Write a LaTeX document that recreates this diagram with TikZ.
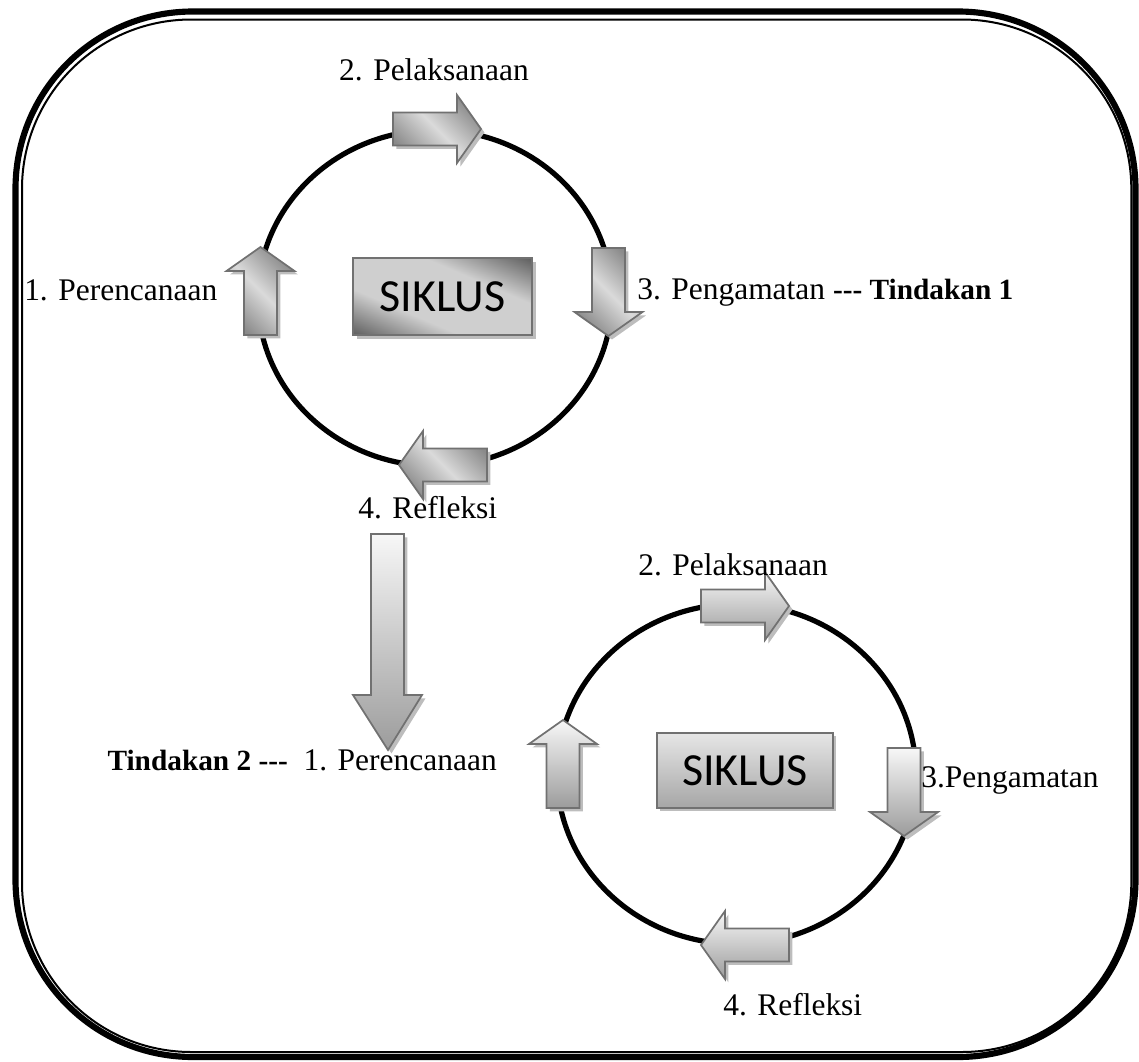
\documentclass[tikz,border=0pt]{standalone}
\usepackage{fontspec}
\setmainfont{Liberation Serif}
\newfontfamily\siklusfont{Carlito}
\usetikzlibrary{shadows}
\definecolor{edgegray}{HTML}{717171}
\definecolor{shadowgray}{HTML}{BDBDBD}
\definecolor{arrdk}{HTML}{8A8A8A}
\definecolor{arrlt}{HTML}{DADADA}
\definecolor{boxdk}{HTML}{5E5E5E}
\definecolor{boxlt}{HTML}{CFCFCF}
\definecolor{lighttop}{HTML}{F7F7F7}
\definecolor{lightbot}{HTML}{9C9C9C}
\definecolor{boxtop}{HTML}{E6E6E6}
\definecolor{boxbot}{HTML}{A6A6A6}
\pgfdeclarehorizontalshading{arrgray}{100bp}{color(0bp)=(arrdk); color(25bp)=(arrdk); color(50bp)=(arrlt); color(75bp)=(arrdk); color(100bp)=(arrdk)}
\pgfdeclarehorizontalshading{boxgray}{100bp}{color(0bp)=(boxdk); color(25bp)=(boxdk); color(40bp)=(boxlt); color(60bp)=(boxlt); color(75bp)=(boxdk); color(100bp)=(boxdk)}
% block arrow: tail centre (#1,#2), unit direction (#3,#4), style #5
\newcommand\blockarr[5]{%
  \path[#5] ({#1-16.5*(#4)},{#2+16.5*(#3)})
    -- ({#1+64*(#3)-16.5*(#4)},{#2+64*(#4)+16.5*(#3)})
    -- ({#1+64*(#3)-34*(#4)},{#2+64*(#4)+34*(#3)})
    -- ({#1+88*(#3)},{#2+88*(#4)})
    -- ({#1+64*(#3)+34*(#4)},{#2+64*(#4)-34*(#3)})
    -- ({#1+64*(#3)+16.5*(#4)},{#2+64*(#4)-16.5*(#3)})
    -- ({#1+16.5*(#4)},{#2-16.5*(#3)}) -- cycle;}
\tikzset{
  shad/.style={drop shadow={shadow xshift=2.6pt, shadow yshift=-2.6pt, fill=shadowgray, opacity=1}},
  arrdark/.style={shad, draw=edgegray, line width=1.3pt, shading=arrgray, shading angle=45},
  arrlight/.style={shad, draw=edgegray, line width=1.3pt, top color=lighttop, bottom color=lightbot},
  ring/.style={line width=3.9pt},
  lbl/.style={font=\fontsize{23.6pt}{28pt}\selectfont, inner sep=0pt},
  siklusA/.style={draw=edgegray, line width=1.3pt,
    minimum width=134.25pt, minimum height=57.75pt, inner sep=0pt,
    font=\siklusfont\fontsize{34.5pt}{40pt}\selectfont},
  siklusB/.style={shad, draw=edgegray, line width=1.3pt, top color=boxtop, bottom color=boxbot,
    minimum width=132pt, minimum height=56.25pt, inner sep=0pt,
    font=\siklusfont\fontsize{34.5pt}{40pt}\selectfont}
}
\newcommand\bt[1]{{\fontsize{22pt}{26pt}\selectfont\bfseries #1}}
\begin{document}
\begin{tikzpicture}[x=0.75pt,y=-0.75pt]
\useasboundingbox (0,0) rectangle (1139,1061);
% page border (thick-thin)
\draw[line width=4.6pt, rounded corners=133pt] (15.5,11.5) rectangle (1135.5,1057);
\draw[line width=1.5pt, rounded corners=127pt] (22,19.5) rectangle (1131.3,1052);

% cycle 1
\draw[ring] (435,298) ellipse [x radius=132.75pt, y radius=126pt];
% SIKLUS box with diagonal gradient (dark upper-right and lower-left corners)
\fill[shadowgray] (356.5,261.5) rectangle (535.5,338.5);
\begin{scope}
  \clip (353,258) rectangle (532,335);
  \begin{scope}[transform canvas={rotate around={66.7:(442.5,296.5)}}]
    \shade[shading=boxgray] (371.8,191.5) rectangle (513.2,401.5);
  \end{scope}
\end{scope}
\node[siklusA] (box1) at (442.5,296.5) {SIKLUS};
\blockarr{393}{129}{1}{0}{arrdark}
\blockarr{260.5}{335}{0}{-1}{arrdark}
\blockarr{608.5}{248}{0}{1}{arrdark}
\blockarr{487}{465}{-1}{0}{arrdark}

\node[lbl, anchor=base] (plan1top) at (434,80) {2. Pelaksanaan};
\node[lbl, anchor=base west] (plan1) at (24,300) {1. Perencanaan};
\node[lbl, anchor=base west] (obs1) at (637,299) {3. Pengamatan \bt{-{}-{}- Tindakan 1}};
\node[lbl, anchor=base west] (ref1) at (358,518) {4. Refleksi};

% transition arrow
\path[shad, draw=edgegray, line width=1.3pt, top color=lighttop, bottom color=lightbot]
  (371,534) -- (404,534) -- (404,695) -- (422,695) -- (388,750) -- (353,695) -- (371,695) -- cycle;

% cycle 2
\draw[ring] (736.5,774) ellipse [x radius=134.6pt, y radius=127.5pt];
\node[siklusB] (box2) at (745,770.5) {SIKLUS};
\blockarr{701}{606}{1}{0}{arrlight}
\blockarr{563}{808}{0}{-1}{arrlight}
\blockarr{904}{748}{0}{1}{arrlight}
\blockarr{789}{945}{-1}{0}{arrlight}

\node[lbl, anchor=base west] (exe2) at (638,575) {2. Pelaksanaan};
\node[lbl, anchor=base east] (plan2) at (497,770) {\bt{Tindakan 2 -{}-{}-}\ \ 1. Perencanaan};
\node[lbl, anchor=base west] (obs2) at (921,787) {3.Pengamatan};
\node[lbl, anchor=base west] (ref2) at (723,1015) {4. Refleksi};
\end{tikzpicture}
\end{document}
